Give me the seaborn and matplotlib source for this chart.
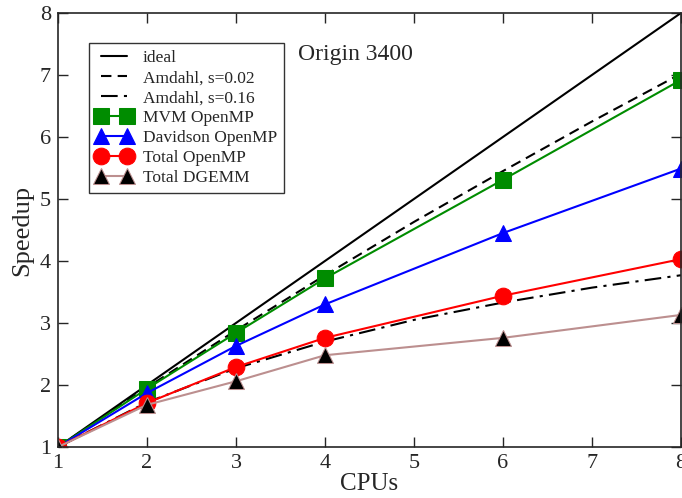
import numpy as np
import pandas as pd
import seaborn as sns
import matplotlib.pyplot as plt

# %% Data
cpus_line = [1, 2, 3, 4, 5, 6, 7, 8]
ideal = [1, 2, 3, 4, 5, 6, 7, 8]
amdahl_002 = [1.0, 1.96, 2.88, 3.77, 4.63, 5.45, 6.25, 7.02]
amdahl_016 = [1.0, 1.72, 2.27, 2.70, 3.05, 3.33, 3.57, 3.77]

cpus = [1, 2, 3, 4, 6, 8]
mvm_openmp = [1.0, 1.94, 2.84, 3.72, 5.31, 6.92]
davidson_openmp = [1.0, 1.87, 2.63, 3.30, 4.45, 5.49]
total_openmp = [1.0, 1.71, 2.29, 2.76, 3.44, 4.03]
total_dgemm = [1.0, 1.68, 2.06, 2.48, 2.76, 3.13]

# %% Style
sns.set_style("ticks")
plt.rcParams["font.family"] = ["Liberation Serif", "DejaVu Serif"]

fig = plt.figure(figsize=(6.82, 4.98), dpi=100)
ax = fig.add_axes([0.085, 0.1024, 0.9135, 0.8716])

sns.lineplot(x=cpus_line, y=ideal, ax=ax, color="black", lw=1.5, label="ideal")
sns.lineplot(x=cpus_line, y=amdahl_002, ax=ax, color="black", lw=1.5,
             linestyle=(0, (5, 3)), label="Amdahl, s=0.02")
sns.lineplot(x=cpus_line, y=amdahl_016, ax=ax, color="black", lw=1.5,
             linestyle=(0, (8, 3, 1.5, 3)), label="Amdahl, s=0.16")
sns.lineplot(x=cpus, y=mvm_openmp, ax=ax, color="#008c00", lw=1.5, marker="s",
             markersize=11, markeredgecolor="#008c00", label="MVM OpenMP")
sns.lineplot(x=cpus, y=davidson_openmp, ax=ax, color="#0000ff", lw=1.5, marker="^",
             markersize=12, markeredgecolor="#0000ff", label="Davidson OpenMP")
sns.lineplot(x=cpus, y=total_openmp, ax=ax, color="#ff0000", lw=1.5, marker="o",
             markersize=12, markeredgecolor="#ff0000", label="Total OpenMP")
sns.lineplot(x=cpus, y=total_dgemm, ax=ax, color="#bc8f8f", lw=1.5, marker="^",
             markersize=11, markerfacecolor="black", markeredgecolor="#bc8f8f",
             label="Total DGEMM")

ax.set_xlim(1, 8)
ax.set_ylim(1, 8)
ax.set_xticks(range(1, 9))
ax.set_yticks(range(1, 9))
ax.tick_params(direction="in", top=True, right=True, length=7, width=1,
               labelsize=16, pad=5)
for side in ax.spines.values():
    side.set_linewidth(1.2)
ax.set_xlabel("CPUs", fontsize=18, labelpad=0)
ax.set_ylabel("Speedup", fontsize=19, labelpad=5)

ax.text(3.7, 7.33, "Origin 3400", fontsize=17, va="center", ha="left")

leg = ax.legend(loc="upper left", bbox_to_anchor=(0.05, 0.93), fontsize=12.5,
                frameon=True, fancybox=False, edgecolor="black", numpoints=2,
                handlelength=2.1, labelspacing=0.22, borderpad=0.4,
                handletextpad=0.6, borderaxespad=0)
leg.get_frame().set_linewidth(1.0)

fig.savefig("out.png", dpi=100)
